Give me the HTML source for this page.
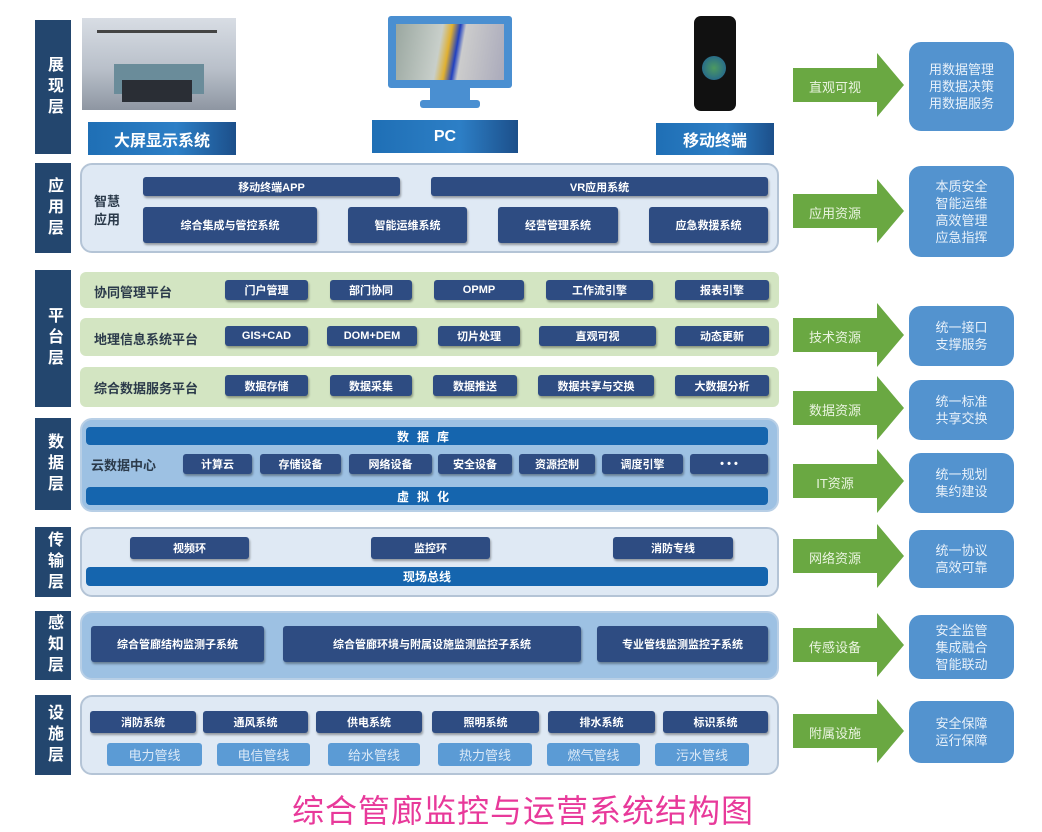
<!DOCTYPE html>
<html><head><meta charset="utf-8"><style>
*{margin:0;padding:0;box-sizing:border-box}
body{width:1042px;height:830px;background:#fff;position:relative;overflow:hidden;font-family:"Liberation Sans","Noto Sans CJK SC",sans-serif}
.a{position:absolute}
.lay{position:absolute;left:35px;width:36px;background:#23466e;color:#fff;font-size:16px;font-weight:bold;display:flex;align-items:center;justify-content:center;text-align:center;line-height:36px;writing-mode:vertical-rl;letter-spacing:5px}
.ctn{position:absolute;left:80px;width:699px;border:2px solid #b4c4d6;border-radius:12px;background:#dfe9f4}
.b{position:absolute;background:#2e4c82;color:#fff;font-size:11px;font-weight:bold;display:flex;align-items:center;justify-content:center;border-radius:3px;box-shadow:1px 2px 2px rgba(0,0,0,.35)}
.bar{position:absolute;left:86px;width:682px;background:#1565ae;color:#fff;font-size:12px;font-weight:bold;display:flex;align-items:center;justify-content:center;border-radius:4px;letter-spacing:8px}
.g{position:absolute;left:80px;width:699px;background:#d3e5c2;border-radius:6px}
.gl{position:absolute;left:94px;font-size:13px;font-weight:bold;color:#2b3a4a}
.lb{position:absolute;background:#5b9bd5;color:#dbe9f7;font-size:13px;display:flex;align-items:center;justify-content:center;border-radius:3px}
.rb{position:absolute;left:909px;width:105px;background:#5393cf;border-radius:12px;color:#e8f1fa;font-size:13px;display:flex;align-items:center;justify-content:center;text-align:center;line-height:17px}
.ar{position:absolute;left:793px}
.ar span{position:absolute;left:0;width:84px;text-align:center;color:#eaf4e0;font-size:13px}
.hd{position:absolute;color:#fff;font-weight:bold;font-size:16px;display:flex;align-items:center;justify-content:center;background:linear-gradient(90deg,#1f6fb5,#2d7fc6 60%,#1c4f8a)}
</style></head><body>

<div class="lay" style="top:20px;height:134px">展现层</div>
<div class="lay" style="top:163px;height:90px">应用层</div>
<div class="lay" style="top:270px;height:137px">平台层</div>
<div class="lay" style="top:418px;height:92px">数据层</div>
<div class="lay" style="top:527px;height:70px">传输层</div>
<div class="lay" style="top:611px;height:69px">感知层</div>
<div class="lay" style="top:695px;height:80px">设施层</div>

<div class="a" style="left:82px;top:18px;width:154px;height:92px;background:linear-gradient(#d8dde4,#b9c0ca 55%,#8e96a2);overflow:hidden">
 <div class="a" style="left:32px;top:46px;width:90px;height:30px;background:#6a8c9a"></div>
 <div class="a" style="left:40px;top:62px;width:70px;height:22px;background:#2a2e35"></div>
 <div class="a" style="left:15px;top:12px;width:120px;height:3px;background:#444"></div>
</div>
<div class="hd" style="left:88px;top:122px;width:148px;height:33px">大屏显示系统</div>
<div class="a" style="left:388px;top:16px;width:124px;height:72px;background:#4a8fd1;border-radius:3px"></div>
<div class="a" style="left:396px;top:24px;width:108px;height:56px;background:linear-gradient(100deg,#9aa7a0,#c8cfca 40%,#e0b030 48%,#2040c0 55%,#ccc 60%,#aab)"></div>
<div class="a" style="left:430px;top:88px;width:40px;height:12px;background:#4a8fd1"></div>
<div class="a" style="left:420px;top:100px;width:60px;height:8px;background:#4a8fd1;border-radius:3px"></div>
<div class="hd" style="left:372px;top:120px;width:146px;height:33px">PC</div>
<div class="a" style="left:694px;top:16px;width:42px;height:95px;background:#111;border-radius:7px"></div>
<div class="a" style="left:702px;top:56px;width:24px;height:24px;background:radial-gradient(#4d9a60,#1a5a9a);border-radius:50%"></div>
<div class="hd" style="left:656px;top:123px;width:118px;height:32px">移动终端</div>

<div class="ctn" style="top:163px;height:90px"></div>
<div class="a" style="left:94px;top:193px;font-size:13px;font-weight:bold;color:#2b3a4a;line-height:18px">智慧<br>应用</div>
<div class="b" style="left:143px;top:177px;width:257px;height:19px">移动终端APP</div>
<div class="b" style="left:431px;top:177px;width:337px;height:19px">VR应用系统</div>
<div class="b" style="left:143px;top:207px;width:174px;height:36px">综合集成与管控系统</div>
<div class="b" style="left:348px;top:207px;width:119px;height:36px">智能运维系统</div>
<div class="b" style="left:498px;top:207px;width:120px;height:36px">经营管理系统</div>
<div class="b" style="left:649px;top:207px;width:119px;height:36px">应急救援系统</div>

<div class="g" style="top:272px;height:36px"></div>
<div class="g" style="top:318px;height:38px"></div>
<div class="g" style="top:367px;height:40px"></div>
<div class="gl" style="top:282px">协同管理平台</div>
<div class="gl" style="top:329px">地理信息系统平台</div>
<div class="gl" style="top:378px">综合数据服务平台</div>
<div class="b" style="left:225px;top:280px;width:83px;height:20px">门户管理</div>
<div class="b" style="left:330px;top:280px;width:82px;height:20px">部门协同</div>
<div class="b" style="left:434px;top:280px;width:90px;height:20px">OPMP</div>
<div class="b" style="left:546px;top:280px;width:107px;height:20px">工作流引擎</div>
<div class="b" style="left:675px;top:280px;width:94px;height:20px">报表引擎</div>
<div class="b" style="left:225px;top:326px;width:83px;height:20px">GIS+CAD</div>
<div class="b" style="left:327px;top:326px;width:90px;height:20px">DOM+DEM</div>
<div class="b" style="left:438px;top:326px;width:82px;height:20px">切片处理</div>
<div class="b" style="left:539px;top:326px;width:117px;height:20px">直观可视</div>
<div class="b" style="left:675px;top:326px;width:94px;height:20px">动态更新</div>
<div class="b" style="left:225px;top:375px;width:83px;height:21px">数据存储</div>
<div class="b" style="left:330px;top:375px;width:82px;height:21px">数据采集</div>
<div class="b" style="left:433px;top:375px;width:84px;height:21px">数据推送</div>
<div class="b" style="left:538px;top:375px;width:116px;height:21px">数据共享与交换</div>
<div class="b" style="left:675px;top:375px;width:94px;height:21px">大数据分析</div>

<div class="ctn" style="top:418px;height:94px;background:#9dc1e3;border-color:#b8cfe6"></div>
<div class="bar" style="top:427px;height:18px">数据库</div>
<div class="a" style="left:91px;top:455px;font-size:13px;font-weight:bold;color:#2b3a4a">云数据中心</div>
<div class="b" style="left:183px;top:454px;width:69px;height:20px">计算云</div>
<div class="b" style="left:260px;top:454px;width:81px;height:20px">存储设备</div>
<div class="b" style="left:349px;top:454px;width:83px;height:20px">网络设备</div>
<div class="b" style="left:438px;top:454px;width:74px;height:20px">安全设备</div>
<div class="b" style="left:519px;top:454px;width:76px;height:20px">资源控制</div>
<div class="b" style="left:602px;top:454px;width:81px;height:20px">调度引擎</div>
<div class="b" style="left:690px;top:454px;width:78px;height:20px">• • •</div>
<div class="bar" style="top:487px;height:18px">虚拟化</div>

<div class="ctn" style="top:527px;height:70px"></div>
<div class="b" style="left:130px;top:537px;width:119px;height:22px">视频环</div>
<div class="b" style="left:371px;top:537px;width:119px;height:22px">监控环</div>
<div class="b" style="left:613px;top:537px;width:120px;height:22px">消防专线</div>
<div class="bar" style="top:567px;height:19px;letter-spacing:0">现场总线</div>

<div class="ctn" style="top:611px;height:69px;background:#9dc1e3;border-color:#b8cfe6"></div>
<div class="b" style="left:91px;top:626px;width:173px;height:36px">综合管廊结构监测子系统</div>
<div class="b" style="left:283px;top:626px;width:298px;height:36px">综合管廊环境与附属设施监测监控子系统</div>
<div class="b" style="left:597px;top:626px;width:171px;height:36px">专业管线监测监控子系统</div>

<div class="ctn" style="top:695px;height:80px"></div>
<div class="b" style="left:90px;top:711px;width:106px;height:22px">消防系统</div>
<div class="b" style="left:203px;top:711px;width:105px;height:22px">通风系统</div>
<div class="b" style="left:316px;top:711px;width:106px;height:22px">供电系统</div>
<div class="b" style="left:432px;top:711px;width:107px;height:22px">照明系统</div>
<div class="b" style="left:548px;top:711px;width:107px;height:22px">排水系统</div>
<div class="b" style="left:663px;top:711px;width:105px;height:22px">标识系统</div>
<div class="lb" style="left:107px;top:743px;width:95px;height:23px">电力管线</div>
<div class="lb" style="left:217px;top:743px;width:93px;height:23px">电信管线</div>
<div class="lb" style="left:328px;top:743px;width:92px;height:23px">给水管线</div>
<div class="lb" style="left:438px;top:743px;width:94px;height:23px">热力管线</div>
<div class="lb" style="left:547px;top:743px;width:93px;height:23px">燃气管线</div>
<div class="lb" style="left:655px;top:743px;width:94px;height:23px">污水管线</div>

<div class="a" style="left:292px;top:786px;font-size:32px;color:#e8399a;letter-spacing:1px">综合管廊监控与运营系统结构图</div>

<div class="ar" style="top:53px"><svg width="112" height="64"><polygon points="0,15 84,15 84,0 111,32 84,64 84,49 0,49" fill="#6aa842"/></svg><span style="top:24px">直观可视</span></div>
<div class="ar" style="top:179px"><svg width="112" height="64"><polygon points="0,15 84,15 84,0 111,32 84,64 84,49 0,49" fill="#6aa842"/></svg><span style="top:24px">应用资源</span></div>
<div class="ar" style="top:303px"><svg width="112" height="64"><polygon points="0,15 84,15 84,0 111,32 84,64 84,49 0,49" fill="#6aa842"/></svg><span style="top:24px">技术资源</span></div>
<div class="ar" style="top:376px"><svg width="112" height="64"><polygon points="0,15 84,15 84,0 111,32 84,64 84,49 0,49" fill="#6aa842"/></svg><span style="top:24px">数据资源</span></div>
<div class="ar" style="top:449px"><svg width="112" height="64"><polygon points="0,15 84,15 84,0 111,32 84,64 84,49 0,49" fill="#6aa842"/></svg><span style="top:24px">IT资源</span></div>
<div class="ar" style="top:524px"><svg width="112" height="64"><polygon points="0,15 84,15 84,0 111,32 84,64 84,49 0,49" fill="#6aa842"/></svg><span style="top:24px">网络资源</span></div>
<div class="ar" style="top:613px"><svg width="112" height="64"><polygon points="0,15 84,15 84,0 111,32 84,64 84,49 0,49" fill="#6aa842"/></svg><span style="top:24px">传感设备</span></div>
<div class="ar" style="top:699px"><svg width="112" height="64"><polygon points="0,15 84,15 84,0 111,32 84,64 84,49 0,49" fill="#6aa842"/></svg><span style="top:24px">附属设施</span></div>

<div class="rb" style="top:42px;height:89px">用数据管理<br>用数据决策<br>用数据服务</div>
<div class="rb" style="top:166px;height:91px">本质安全<br>智能运维<br>高效管理<br>应急指挥</div>
<div class="rb" style="top:306px;height:60px">统一接口<br>支撑服务</div>
<div class="rb" style="top:380px;height:60px">统一标准<br>共享交换</div>
<div class="rb" style="top:453px;height:60px">统一规划<br>集约建设</div>
<div class="rb" style="top:530px;height:58px">统一协议<br>高效可靠</div>
<div class="rb" style="top:615px;height:64px">安全监管<br>集成融合<br>智能联动</div>
<div class="rb" style="top:701px;height:62px">安全保障<br>运行保障</div>
</body></html>
